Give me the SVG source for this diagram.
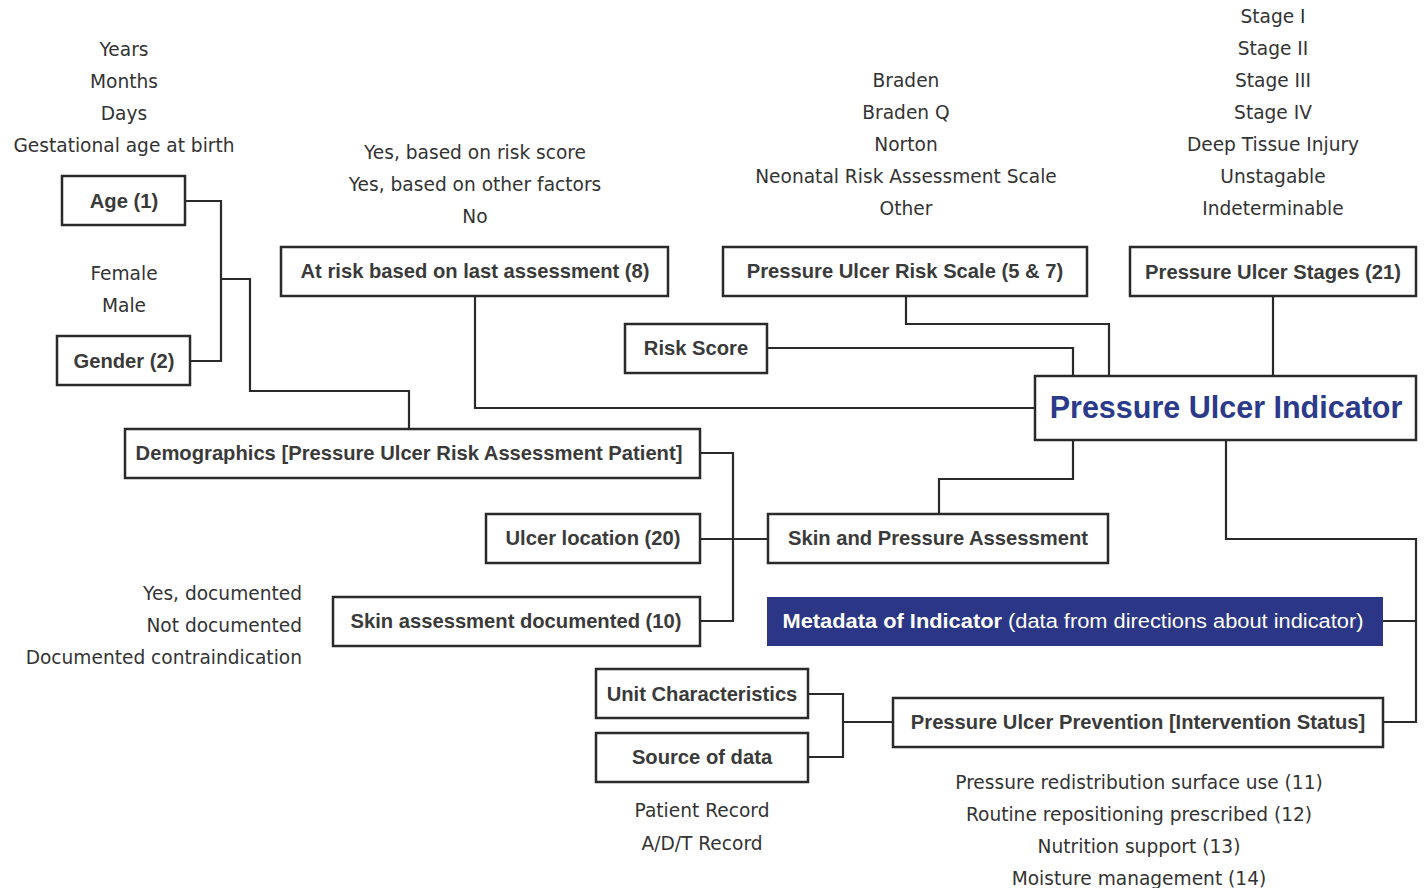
<svg xmlns="http://www.w3.org/2000/svg" width="1424" height="888" viewBox="0 0 1424 888">
<style>
.bg{fill:#ffffff}
.box{fill:#ffffff;stroke:#2a2a2a;stroke-width:2.5}
.lbl{font-family:"Liberation Sans",Arial,sans-serif;font-size:20.2px;font-weight:700;fill:#3a3a3a;text-anchor:middle}
.opt{font-family:"DejaVu Sans","Liberation Sans",sans-serif;font-size:18.6px;fill:#333333;text-anchor:middle}
.optr{font-family:"DejaVu Sans","Liberation Sans",sans-serif;font-size:18.6px;fill:#333333;text-anchor:end}
.con{fill:none;stroke:#2a2a2a;stroke-width:2.2}
.main{font-family:"Liberation Sans",Arial,sans-serif;font-size:30.5px;font-weight:700;fill:#2b3a8a;text-anchor:middle}
.meta{font-family:"Liberation Sans",Arial,sans-serif;font-size:20px;fill:#ffffff;text-anchor:middle}
</style>
<rect class="bg" x="0" y="0" width="1424" height="888"/>

<g id="connectors">
  <path class="con" d="M185,201 H221 V361 H190"/>
  <path class="con" d="M221,279 H250 V391 H409 V429"/>
  <path class="con" d="M475,296 V408 H1035"/>
  <path class="con" d="M906,296 V324 H1109 V376"/>
  <path class="con" d="M767,348 H1073 V376"/>
  <path class="con" d="M1273,296 V376"/>
  <path class="con" d="M1073,440 V479 H939 V514"/>
  <path class="con" d="M1226,440 V539 H1416 V722 H1383"/>
  <path class="con" d="M1383,621 H1416"/>
  <path class="con" d="M700,453 H733 V621 H700"/>
  <path class="con" d="M700,539 H768"/>
  <path class="con" d="M808,694 H843 V757 H808"/>
  <path class="con" d="M843,722 H893"/>
</g>

<g id="age-options">
  <text class="opt" x="124" y="56">Years</text>
  <text class="opt" x="124" y="88">Months</text>
  <text class="opt" x="124" y="120">Days</text>
  <text class="opt" x="124" y="152">Gestational age at birth</text>
</g>
<g id="age">
  <rect class="box" x="62" y="176" width="123" height="49"/>
  <text class="lbl" x="124" y="208">Age (1)</text>
</g>
<g id="gender-options">
  <text class="opt" x="124" y="280">Female</text>
  <text class="opt" x="124" y="312">Male</text>
</g>
<g id="gender">
  <rect class="box" x="57" y="336" width="133" height="49"/>
  <text class="lbl" x="124" y="368">Gender (2)</text>
</g>

<g id="atrisk-options">
  <text class="opt" x="475" y="159">Yes, based on risk score</text>
  <text class="opt" x="475" y="191">Yes, based on other factors</text>
  <text class="opt" x="475" y="223">No</text>
</g>
<g id="atrisk">
  <rect class="box" x="281" y="247" width="387" height="49"/>
  <text class="lbl" x="475" y="278">At risk based on last assessment (8)</text>
</g>

<g id="scale-options">
  <text class="opt" x="906" y="87">Braden</text>
  <text class="opt" x="906" y="119">Braden Q</text>
  <text class="opt" x="906" y="151">Norton</text>
  <text class="opt" x="906" y="183">Neonatal Risk Assessment Scale</text>
  <text class="opt" x="906" y="215">Other</text>
</g>
<g id="riskscale">
  <rect class="box" x="723" y="247" width="364" height="49"/>
  <text class="lbl" x="905" y="278">Pressure Ulcer Risk Scale (5 &amp; 7)</text>
</g>

<g id="stage-options">
  <text class="opt" x="1273" y="23">Stage I</text>
  <text class="opt" x="1273" y="55">Stage II</text>
  <text class="opt" x="1273" y="87">Stage III</text>
  <text class="opt" x="1273" y="119">Stage IV</text>
  <text class="opt" x="1273" y="151">Deep Tissue Injury</text>
  <text class="opt" x="1273" y="183">Unstagable</text>
  <text class="opt" x="1273" y="215">Indeterminable</text>
</g>
<g id="stages">
  <rect class="box" x="1130" y="247" width="286" height="49"/>
  <text class="lbl" x="1273" y="279">Pressure Ulcer Stages (21)</text>
</g>

<g id="riskscore">
  <rect class="box" x="625" y="324" width="142" height="49"/>
  <text class="lbl" x="696" y="355">Risk Score</text>
</g>

<g id="indicator">
  <rect class="box" x="1035" y="376" width="381" height="64"/>
  <text class="main" x="1226" y="418">Pressure Ulcer Indicator</text>
</g>

<g id="demographics">
  <rect class="box" x="125" y="429" width="575" height="49"/>
  <text class="lbl" x="409" y="460">Demographics [Pressure Ulcer Risk Assessment Patient]</text>
</g>

<g id="ulcerlocation">
  <rect class="box" x="486" y="514" width="214" height="49"/>
  <text class="lbl" x="593" y="545">Ulcer location (20)</text>
</g>

<g id="skinpressure">
  <rect class="box" x="768" y="514" width="340" height="49"/>
  <text class="lbl" x="938" y="545">Skin and Pressure Assessment</text>
</g>

<g id="skindoc-options">
  <text class="optr" x="302" y="600">Yes, documented</text>
  <text class="optr" x="302" y="632">Not documented</text>
  <text class="optr" x="302" y="664">Documented contraindication</text>
</g>
<g id="skindoc">
  <rect class="box" x="333" y="597" width="367" height="49"/>
  <text class="lbl" x="516" y="628">Skin assessment documented (10)</text>
</g>

<g id="metadata">
  <rect x="767" y="597" width="616" height="49" fill="#2b3786"/>
  <text class="meta" x="1073" y="628" textLength="581" lengthAdjust="spacingAndGlyphs"><tspan font-weight="700">Metadata of Indicator</tspan> (data from directions about indicator)</text>
</g>

<g id="unitchar">
  <rect class="box" x="596" y="669" width="212" height="49"/>
  <text class="lbl" x="702" y="701">Unit Characteristics</text>
</g>
<g id="source">
  <rect class="box" x="596" y="733" width="212" height="49"/>
  <text class="lbl" x="702" y="764">Source of data</text>
</g>
<g id="source-options">
  <text class="opt" x="702" y="817">Patient Record</text>
  <text class="opt" x="702" y="850">A/D/T Record</text>
</g>

<g id="prevention">
  <rect class="box" x="893" y="698" width="490" height="49"/>
  <text class="lbl" x="1138" y="729">Pressure Ulcer Prevention [Intervention Status]</text>
</g>
<g id="prevention-options">
  <text class="opt" x="1139" y="789">Pressure redistribution surface use (11)</text>
  <text class="opt" x="1139" y="821">Routine repositioning prescribed (12)</text>
  <text class="opt" x="1139" y="853">Nutrition support (13)</text>
  <text class="opt" x="1139" y="885">Moisture management (14)</text>
</g>
</svg>
